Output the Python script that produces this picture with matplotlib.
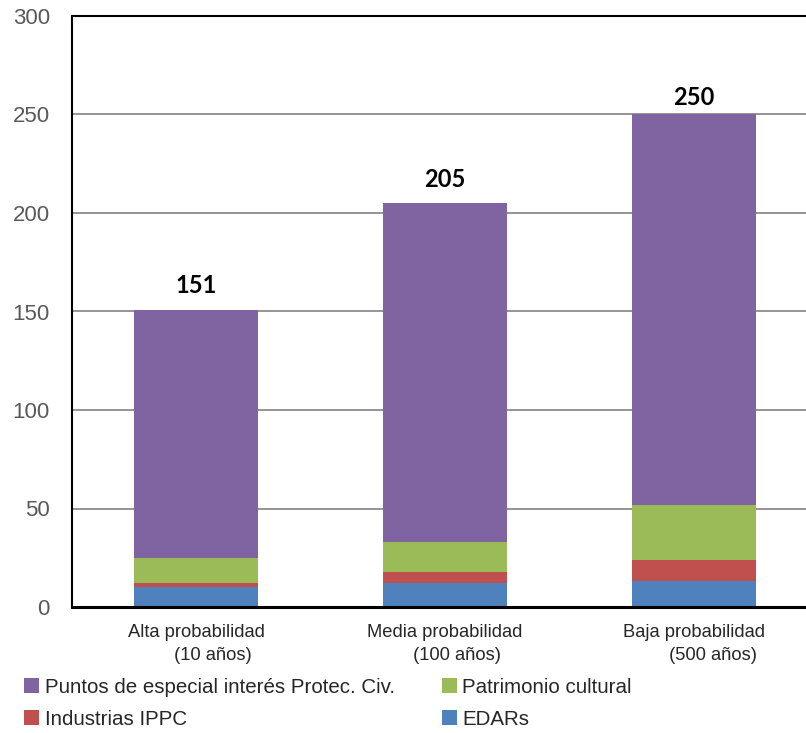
import numpy as np
from matplotlib import pyplot as plt

# Data
categories = ["Alta probabilidad\n         (10 años)",
              "Media probabilidad\n         (100 años)",
              "Baja probabilidad\n         (500 años)"]
edars = [10, 12, 13]
industrias = [2, 6, 11]
patrimonio = [13, 15, 28]
puntos = [126, 172, 198]
totals = [151, 205, 250]
label_pad = [12, 12, 8.5]

plt.rcParams['font.family'] = ['Liberation Sans', 'DejaVu Sans']

fig = plt.figure(figsize=(8.06, 7.33), dpi=100)
ax = fig.add_axes([72 / 806, 1 - 607 / 733, 1 - 72 / 806, (607 - 16) / 733])

x = np.arange(len(categories))
width = 0.5
b1 = ax.bar(x, edars, width, color="#4F81BD")
bottom = np.array(edars)
b2 = ax.bar(x, industrias, width, bottom=bottom, color="#C0504D")
bottom = bottom + np.array(industrias)
b3 = ax.bar(x, patrimonio, width, bottom=bottom, color="#9BBB59")
bottom = bottom + np.array(patrimonio)
b4 = ax.bar(x, puntos, width, bottom=bottom, color="#8064A2")

for xi, tot, pad in zip(x, totals, label_pad):
    ax.text(xi, tot + pad, str(tot), ha="center", va="center",
            fontsize=17, fontweight="bold", family=["Lato", "DejaVu Sans"])

ax.set_ylim(0, 300)
ax.set_xlim(-0.498, 2.45)
ax.set_yticks(np.arange(0, 301, 50))
ax.yaxis.grid(True, color="#8c8c8c", linewidth=1.3)
ax.set_axisbelow(True)

ax.set_xticks(x)
ax.set_xticklabels(categories, fontsize=13.2, color="#262626",
                   multialignment="left", linespacing=1.45)
ax.tick_params(axis="x", length=0, pad=12)
ax.tick_params(axis="y", length=0, pad=16, labelsize=16, labelcolor="#595959")

ax.spines["right"].set_visible(False)
ax.spines["left"].set_linewidth(1.5)
ax.spines["top"].set_linewidth(1.5)
ax.spines["bottom"].set_linewidth(2.2)

fig.legend([b4, b2, b3, b1],
           ["Puntos de especial interés Protec. Civ.", "Industrias IPPC",
            "Patrimonio cultural", "EDARs"],
           ncol=2, loc="upper left", bbox_to_anchor=(24 / 806, 1 - 678 / 733),
           frameon=False, fontsize=14.8, handlelength=0.75, handleheight=0.75,
           handletextpad=0.25, columnspacing=2.3, labelspacing=0.62,
           borderaxespad=0, borderpad=0, labelcolor="#262626")

fig.savefig("out.png", dpi=100)
